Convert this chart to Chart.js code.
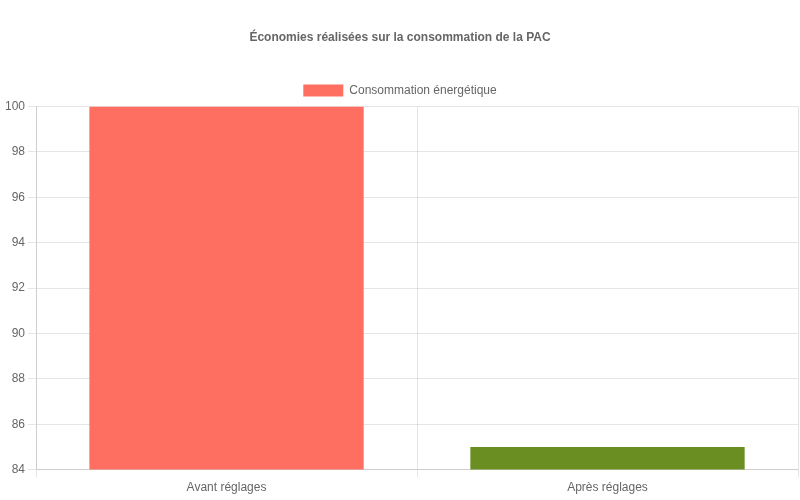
<!DOCTYPE html>
<html>
<head>
<meta charset="utf-8">
<script src="https://cdn.jsdelivr.net/npm/chart.js@4"></script>
<style>
  html, body { margin: 0; padding: 0; background: #fff; }
  #wrap { width: 800px; height: 500px; }
</style>
</head>
<body>
<div id="wrap"><canvas id="pacChart"></canvas></div>
<script>
const labels = ['Avant réglages', 'Après réglages'];
const consumption = [100, 85];
const barColors = ['#FF6F61', '#6B8E23'];

const ctx = document.getElementById('pacChart').getContext('2d');

new Chart(ctx, {
  type: 'bar',
  data: {
    labels: labels,
    datasets: [{
      label: 'Consommation énergétique',
      data: consumption,
      backgroundColor: barColors
    }]
  },
  options: {
    responsive: true,
    maintainAspectRatio: false,
    animation: false,
    layout: {
      padding: { left: 2, right: 2, bottom: 2 }
    },
    plugins: {
      title: {
        display: true,
        text: 'Économies réalisées sur la consommation de la PAC',
        padding: 30
      },
      legend: { display: true, position: 'top' }
    },
    scales: {
      y: {
        min: 84,
        max: 100,
        ticks: { stepSize: 2 }
      }
    }
  }
});
</script>
</body>
</html>
